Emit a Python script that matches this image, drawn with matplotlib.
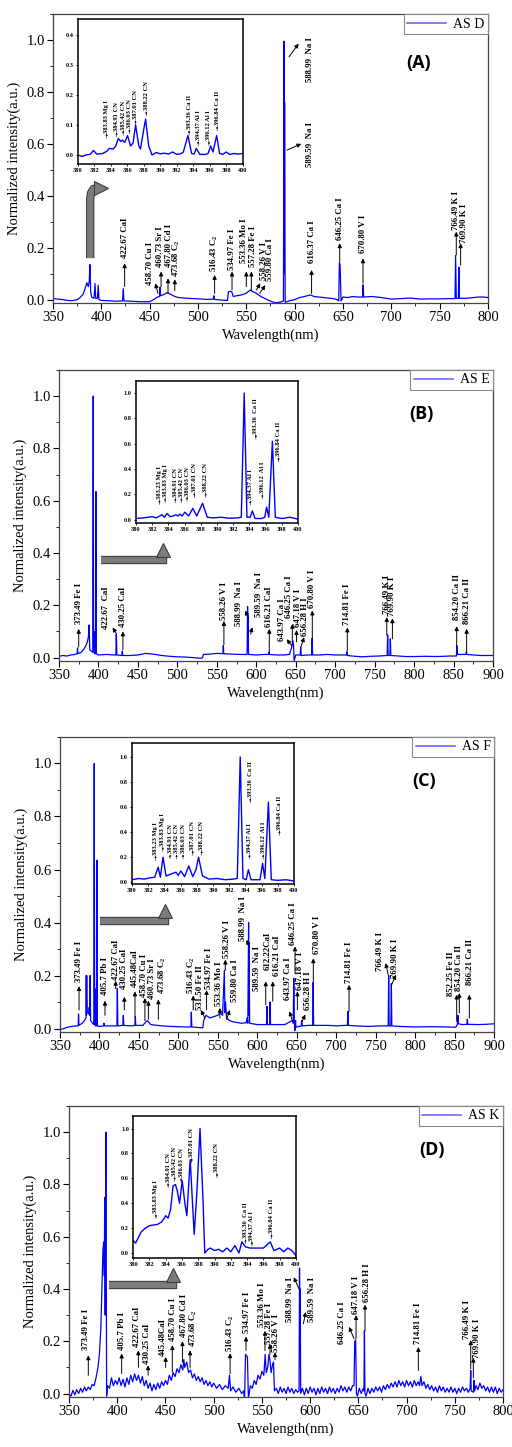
import matplotlib
matplotlib.use('Agg')
import matplotlib.pyplot as plt
import matplotlib.patheffects as pe
from matplotlib.lines import Line2D
from matplotlib.ticker import MultipleLocator

plt.rcParams['font.family'] = ['Liberation Serif', 'DejaVu Serif']
plt.rcParams['mathtext.fontset'] = 'custom'
plt.rcParams['mathtext.rm'] = 'Liberation Serif:bold'
plt.rcParams['mathtext.it'] = 'Liberation Serif:italic:bold'
plt.rcParams['mathtext.bf'] = 'Liberation Serif:bold'

# ---------------- data: (wavelength nm, normalized intensity) ----------------
spec_a = [(350, 0.004), (355, 0.002), (360, 0.0), (365, -0.003), (370, -0.004), (375, 0.0), (378, 0.008),
          (381, 0.02), (383, 0.04), (385, 0.065), (386.5, 0.05), (387.5, 0.07), (388.2, 0.135), (389, 0.03),
          (390, 0.01), (392.5, 0.005), (393.4, 0.062), (394.2, 0.005), (396, 0.005), (396.8, 0.055),
          (397.6, 0.0), (400, -0.003), (405, -0.004), (410, -0.005), (415, -0.006), (421.9, -0.005),
          (422.67, 0.042), (423.4, -0.005), (430, -0.006), (440, -0.008), (450, -0.008), (455, 0.002),
          (458, 0.01), (460.2, 0.012), (460.73, 0.048), (461.3, 0.015), (465, 0.02), (468, 0.027), (472, 0.02),
          (476, 0.012), (480, 0.008), (490, 0.005), (500, 0.003), (510, 0.001), (515.8, 0.002), (516.43, 0.015),
          (517, 0.001), (525, -0.002), (530.5, -0.003), (531.5, 0.03), (533, 0.032), (535, 0.03), (536.5, 0.012),
          (540, 0.015), (545, 0.018), (550, 0.025), (554, 0.037), (557.3, 0.03), (560, 0.025), (565, 0.012),
          (570, 0.003), (575, -0.006), (580, -0.012), (585, -0.01), (588.4, -0.005), (588.99, 0.995),
          (589.3, 0.1), (589.59, 0.76), (590.2, -0.01), (592, -0.008), (595, -0.004), (600, 0.0), (605, 0.008),
          (610, 0.012), (616.37, 0.018), (620, 0.012), (625, 0.01), (630, 0.008), (635, 0.006), (640, 0.004),
          (644, 0.0), (645.6, -0.005), (646.25, 0.14), (647, 0.135), (648, -0.005), (650, 0.01), (655, 0.008),
          (660, 0.012), (665, 0.01), (670.2, 0.01), (670.8, 0.057), (671.4, 0.01), (680, 0.012), (690, 0.008),
          (700, 0.002), (710, 0.004), (720, 0.006), (730, 0.002), (740, 0.003), (750, 0.003), (760, 0.004),
          (765.9, 0.004), (766.49, 0.17), (767.2, 0.005), (769.3, 0.005), (769.9, 0.125), (770.5, 0.005),
          (775, 0.005), (780, 0.006), (790, 0.01), (795, 0.01), (800, 0.008)]

spec_b = [(350, 0.005), (355, 0.008), (360, 0.006), (365, 0.01), (370, 0.012), (373, 0.015), (373.49, 0.037),
          (374, 0.015), (378, 0.02), (381, 0.03), (384, 0.045), (386, 0.06), (387.3, 0.08), (388.22, 0.125),
          (389, 0.03), (392.8, 0.02), (393.36, 1.0), (393.9, 0.02), (394.37, 0.1), (394.9, 0.015),
          (396.3, 0.015), (396.84, 0.635), (397.4, 0.015), (400, 0.01), (410, 0.012), (420, 0.01),
          (422.1, 0.01), (422.67, 0.092), (423.3, 0.01), (429.7, 0.008), (430.25, 0.025), (430.8, 0.008),
          (440, 0.008), (450, 0.01), (460, 0.016), (470, 0.013), (480, 0.008), (490, 0.005), (500, 0.003),
          (510, 0.002), (520, 0.0), (530, -0.003), (532, 0.0), (533, 0.012), (540, 0.013), (550, 0.016),
          (557.7, 0.015), (558.26, 0.046), (558.8, 0.015), (570, 0.013), (580, 0.012), (588.4, 0.012),
          (588.99, 0.195), (589.3, 0.03), (589.59, 0.16), (590.2, 0.012), (600, 0.01), (610, 0.012),
          (615.7, 0.012), (616.21, 0.022), (616.7, 0.012), (625, 0.01), (635, 0.01), (642, 0.012),
          (643.97, 0.03), (645, 0.04), (646.25, 0.065), (647.18, 0.05), (648, -0.012), (650, 0.01),
          (655.7, 0.01), (656.28, 0.04), (656.9, 0.008), (665, 0.01), (670.2, 0.01), (670.8, 0.073),
          (671.4, 0.01), (680, 0.01), (690, 0.012), (700, 0.01), (714.2, 0.01), (714.81, 0.022), (715.4, 0.008),
          (725, 0.005), (735, 0.003), (745, 0.005), (755, 0.006), (765.9, 0.008), (766.49, 0.087),
          (767.1, 0.008), (769.3, 0.008), (769.9, 0.072), (770.5, 0.008), (780, 0.006), (790, 0.004),
          (800, 0.004), (815, 0.005), (830, 0.004), (845, 0.006), (853.6, 0.006), (854.2, 0.045),
          (854.8, 0.012), (860, 0.012), (865.6, 0.012), (866.21, 0.022), (866.8, 0.012), (875, 0.01),
          (885, 0.008), (900, 0.008)]

spec_c = [(350, -0.004), (355, 0.0), (360, 0.006), (365, 0.008), (370, 0.01), (373, 0.01), (373.49, 0.055),
          (374, 0.012), (378, 0.02), (381, 0.03), (383, 0.04), (383.23, 0.2), (383.6, 0.05), (383.83, 0.2),
          (384.2, 0.06), (385.5, 0.06), (386.5, 0.055), (387.01, 0.08), (387.6, 0.05), (388.22, 0.2),
          (388.8, 0.03), (392.8, 0.015), (393.36, 1.0), (393.9, 0.015), (394.37, 0.15), (394.9, 0.01),
          (396.3, 0.01), (396.84, 0.635), (397.4, 0.01), (400, 0.008), (405.2, 0.01), (405.7, 0.02),
          (406.2, 0.01), (415, 0.01), (422.1, 0.01), (422.67, 0.152), (423.3, 0.01), (429.7, 0.012),
          (430.25, 0.05), (430.8, 0.012), (440, 0.01), (444.9, 0.012), (445.48, 0.045), (446, 0.012),
          (455, 0.012), (458.7, 0.025), (460.73, 0.03), (465, 0.015), (470, 0.013), (480, 0.01), (490, 0.008),
          (500, 0.007), (510, 0.006), (515.9, 0.006), (516.43, 0.062), (517, 0.006), (525, 0.004), (531, 0.003),
          (532, 0.03), (535, 0.05), (540, 0.04), (545, 0.045), (550, 0.05), (553, 0.06), (556, 0.05),
          (558.26, 0.22), (559, 0.06), (559.8, 0.1), (561, 0.04), (565, 0.03), (570, 0.025), (580, 0.02),
          (586, 0.022), (587, 0.04), (588, 0.02), (588.99, 0.4), (589.3, 0.05), (589.59, 0.32), (590.3, 0.02),
          (600, 0.015), (611.7, 0.015), (612.22, 0.084), (612.8, 0.015), (615.7, 0.015), (616.21, 0.1),
          (616.8, 0.015), (625, 0.015), (635, 0.015), (643.97, 0.03), (645.5, 0.02), (646.25, 0.19),
          (647, 0.02), (647.6, -0.008), (648.5, 0.03), (649, 0.005), (655.7, 0.01), (656.28, 0.03),
          (656.9, 0.01), (665, 0.012), (670.2, 0.012), (670.8, 0.175), (671.4, 0.012), (680, 0.012),
          (690, 0.012), (700, 0.01), (710, 0.012), (714.2, 0.012), (714.81, 0.065), (715.4, 0.012),
          (725, 0.01), (740, 0.008), (755, 0.01), (765.9, 0.01), (766.49, 0.2), (767.1, 0.01), (769.3, 0.01),
          (769.9, 0.17), (770.5, 0.01), (780, 0.008), (800, 0.006), (820, 0.007), (840, 0.006), (851, 0.005),
          (852.25, 0.008), (853.5, 0.015), (854.2, 0.05), (854.8, 0.018), (860, 0.015), (865.6, 0.016),
          (866.21, 0.035), (866.8, 0.016), (880, 0.015), (890, 0.016), (900, 0.018)]

spec_d = [(350, 0.0), (352, -0.01), (354, 0.012), (356, -0.005), (358, 0.015), (360, 0.0), (362, 0.02),
          (364, 0.005), (366, 0.025), (368, 0.01), (370, 0.025), (372, 0.015), (374, 0.035), (376, 0.03),
          (378, 0.06), (380, 0.1), (381.5, 0.15), (383, 0.25), (384.5, 0.45), (385.2, 0.55), (386, 0.58),
          (386.6, 0.45), (387, 0.75), (387.5, 0.3), (388.22, 1.0), (388.7, 0.3), (389, -0.01), (390, 0.03),
          (392, 0.02), (394, 0.06), (396, 0.03), (398, 0.05), (400, 0.035), (402, 0.06), (404, 0.03),
          (406, 0.055), (408, 0.025), (410, 0.06), (412, 0.035), (414, 0.07), (416, 0.045), (418, 0.075),
          (420, 0.05), (422, 0.07), (424, 0.04), (426, 0.065), (428, 0.03), (430, 0.05), (432, 0.02),
          (434, 0.04), (436, 0.01), (438, 0.035), (440, 0.015), (442, 0.04), (444, 0.02), (446, 0.045),
          (448, 0.03), (450, 0.05), (452, 0.035), (454, 0.07), (456, 0.05), (458, 0.08), (460, 0.065),
          (462, 0.095), (464, 0.08), (466, 0.11), (468, 0.09), (469, 0.13), (470, 0.1), (472, 0.12),
          (474, 0.08), (476, 0.09), (478, 0.06), (480, 0.075), (482, 0.05), (484, 0.065), (486, 0.045),
          (488, 0.06), (490, 0.035), (492, 0.05), (494, 0.03), (496, 0.045), (498, 0.025), (500, 0.04),
          (503, 0.02), (506, 0.035), (509, 0.015), (512, 0.03), (515, 0.02), (516.43, 0.07), (517.5, 0.01),
          (520, 0.025), (523, 0.005), (526, 0.02), (529, 0.0), (531, 0.01), (532, -0.02), (533, 0.15),
          (534.97, 0.14), (536, -0.02), (538, 0.03), (540, 0.02), (542, 0.05), (544, 0.035), (546, 0.07),
          (548, 0.055), (550, 0.085), (552, 0.07), (553.36, 0.15), (554.5, 0.08), (556, 0.1), (557.28, 0.15),
          (558.26, 0.13), (559.5, 0.08), (561, 0.11), (562, 0.12), (563, 0.01), (565, 0.02), (567, 0.0),
          (569, 0.025), (571, 0.005), (573, 0.02), (575, 0.0), (577, 0.025), (579, 0.005), (581, 0.02),
          (583, 0.0), (585, 0.015), (587, 0.005), (588.5, 0.01), (588.99, 0.48), (589.3, 0.15), (589.59, 0.4),
          (590.2, 0.0), (592, 0.02), (594, -0.005), (596, 0.02), (598, 0.0), (600, 0.025), (602, 0.005),
          (604, 0.02), (606, -0.005), (608, 0.02), (610, 0.0), (612, 0.025), (614, 0.005), (616, 0.02),
          (618, 0.0), (620, 0.025), (622, 0.005), (624, 0.02), (626, 0.0), (628, 0.02), (630, 0.005),
          (632, 0.03), (634, 0.01), (636, 0.025), (638, 0.005), (640, 0.025), (642, 0.01), (644, 0.03),
          (645.5, 0.03), (646.25, 0.2), (647.18, 0.205), (648, 0.0), (649, -0.01), (651, 0.02), (653, 0.0),
          (655, 0.02), (655.8, 0.01), (656.28, 0.24), (656.8, 0.0), (658, -0.01), (660, 0.02), (662, 0.0),
          (664, 0.02), (666, 0.005), (668, 0.025), (670, 0.01), (672, 0.025), (674, 0.005), (676, 0.03),
          (678, 0.015), (680, 0.035), (682, 0.02), (684, 0.04), (686, 0.025), (688, 0.045), (690, 0.025),
          (692, 0.05), (694, 0.03), (696, 0.045), (698, 0.025), (700, 0.05), (702, 0.03), (704, 0.045),
          (706, 0.025), (708, 0.05), (710, 0.03), (712, 0.045), (713.5, 0.03), (714.81, 0.065), (716, 0.03),
          (718, 0.045), (720, 0.02), (722, 0.035), (724, 0.015), (726, 0.03), (728, 0.01), (730, 0.025),
          (732, 0.005), (734, 0.03), (736, 0.01), (738, 0.025), (740, 0.005), (742, 0.02), (744, 0.005),
          (746, 0.025), (748, 0.005), (750, 0.02), (752, 0.0), (754, 0.02), (756, 0.005), (758, 0.025),
          (760, 0.01), (762, 0.02), (764, 0.005), (765.9, 0.02), (766.49, 0.088), (767, 0.01), (769.3, 0.005),
          (769.9, 0.05), (770.5, 0.01), (772, 0.03), (774, 0.015), (776, 0.04), (778, 0.02), (780, 0.03),
          (782, 0.01), (784, 0.025), (786, 0.005), (788, 0.025), (790, 0.005), (792, 0.025), (794, 0.0),
          (796, 0.02), (798, 0.005), (800, 0.015)]

inset_a = [(380, 0.0), (380.5, -0.005), (381, 0.0), (381.5, 0.002), (381.9, 0.015), (382.3, 0.003), (383, 0.005),
           (383.5, 0.012), (383.83, 0.022), (384.3, 0.02), (384.6, 0.03), (384.91, 0.055), (385.2, 0.045),
           (385.42, 0.05), (385.7, 0.042), (386.03, 0.065), (386.4, 0.03), (386.7, 0.04), (387.01, 0.1),
           (387.4, 0.03), (387.6, 0.02), (387.9, 0.07), (388.22, 0.12), (388.6, 0.03), (389, 0.0),
           (389.5, 0.008), (390, 0.004), (390.5, 0.006), (391, 0.003), (391.5, 0.01), (392, 0.002),
           (392.5, 0.004), (392.8, 0.01), (393.36, 0.065), (393.8, 0.005), (394.1, 0.003), (394.37, 0.022),
           (394.8, 0.002), (395.5, 0.002), (395.8, 0.005), (396.12, 0.03), (396.4, 0.01), (396.84, 0.065),
           (397.2, 0.005), (397.6, 0.002), (398, 0.01), (398.4, 0.002), (399, 0.005), (399.5, 0.003), (400, 0.005)]

inset_b = [(380, 0.01), (381, 0.015), (382, 0.025), (382.5, 0.015), (383.23, 0.04), (383.5, 0.02), (383.83, 0.05),
           (384.2, 0.025), (384.6, 0.03), (384.91, 0.04), (385.2, 0.03), (385.42, 0.045), (385.7, 0.03),
           (386.03, 0.06), (386.5, 0.03), (387.01, 0.09), (387.5, 0.03), (388.22, 0.13), (388.8, 0.02),
           (389.5, 0.015), (390.5, 0.02), (391.5, 0.012), (392.5, 0.015), (393.0, 0.02), (393.36, 1.0),
           (393.7, 0.02), (394.1, 0.02), (394.37, 0.07), (394.7, 0.01), (395.5, 0.01), (395.9, 0.02),
           (396.12, 0.1), (396.4, 0.02), (396.84, 0.62), (397.2, 0.02), (398, 0.01), (399, 0.02), (400, 0.005)]

inset_c = [(380, 0.02), (380.8, 0.03), (381.5, 0.025), (382.2, 0.035), (382.8, 0.04), (383.23, 0.12), (383.5, 0.04),
           (383.83, 0.2), (384.2, 0.05), (384.6, 0.06), (385, 0.07), (385.42, 0.08), (385.7, 0.055),
           (386.03, 0.09), (386.5, 0.045), (387.01, 0.13), (387.5, 0.045), (387.9, 0.1), (388.22, 0.2),
           (388.7, 0.05), (389.5, 0.025), (390.5, 0.03), (391.5, 0.02), (392.5, 0.025), (393.0, 0.03),
           (393.36, 1.0), (393.7, 0.03), (394.1, 0.02), (394.37, 0.1), (394.7, 0.02), (395.8, 0.02),
           (396.12, 0.15), (396.4, 0.03), (396.84, 0.64), (397.2, 0.02), (398, 0.015), (399, 0.02), (400, 0.01)]

inset_d = [(380, 0.1), (380.3, 0.08), (381, 0.17), (381.5, 0.2), (382, 0.22), (383, 0.23), (383.5, 0.25),
           (383.83, 0.28), (384, 0.3), (384.3, 0.28), (384.6, 0.35), (384.91, 0.54), (385.2, 0.55),
           (385.42, 0.5), (385.7, 0.4), (386.03, 0.58), (386.4, 0.38), (386.6, 0.3), (387.01, 0.75),
           (387.5, 0.15), (387.8, 0.45), (388.22, 1.0), (388.6, 0.4), (388.8, 0.0), (389.2, 0.03),
           (389.5, 0.04), (390, 0.02), (390.5, 0.03), (391, 0.01), (391.5, 0.04), (392, 0.01), (392.5, 0.06),
           (393, 0.0), (393.36, 0.09), (393.8, 0.05), (394.37, 0.04), (395, 0.04), (396, 0.04), (396.84, 0.09),
           (397.3, 0.02), (398, 0.04), (398.5, 0.01), (399, 0.04), (399.5, 0.02), (400, -0.02)]

legend_labels = ['AS D', 'AS E', 'AS F', 'AS K']
panel_tags = ['(A)', '(B)', '(C)', '(D)']

# ------------- annotation layout: (label, text x, text bottom y, arrow tail x, tail y, head x, head y) -------------
notes_a = [("422.67 CaI", 424.1, 0.159, 424.1, 0.05, 424.1, 0.14),
           ("458.70 Cu I", 450.5, 0.056, 458.6, 0.024, 455.9, 0.063),
           ("460.73 Sr I", 461.0, 0.127, 461.8, 0.05, 461.8, 0.108),
           ("467.80 Cd I", 469.6, 0.127, 469.0, 0.024, 469.0, 0.082),
           ("473.68 C$_2$", 477.6, 0.088, 476.0, 0.035, 476.0, 0.078),
           ("516.43 C$_2$", 517.2, 0.108, 517.2, 0.024, 517.2, 0.095),
           ("534.97 Fe I", 535.2, 0.114, 535.2, 0.037, 535.2, 0.108),
           ("553.36 Mo I", 547.6, 0.14, 550.0, 0.05, 550.0, 0.108),
           ("557.28 Fe I", 557.0, 0.127, 555.2, 0.037, 555.2, 0.108),
           ("558.26 V I", 568.3, 0.076, 560.3, 0.037, 564.5, 0.063),
           ("559.80 Ca I", 575.0, 0.07, 563.8, 0.024, 569.7, 0.056),
           ("588.99  Na I", 615.5, 0.84, 594.1, 0.935, 604.1, 0.986),
           ("589.59  Na I", 615.5, 0.51, 592.0, 0.576, 606.9, 0.6),
           ("616.37 Ca I", 617.9, 0.14, 617.5, 0.024, 617.5, 0.114),
           ("646.25 Ca I", 646.6, 0.23, 646.6, 0.14, 646.6, 0.217),
           ("670.80 V I", 670.7, 0.178, 670.7, 0.063, 670.7, 0.159),
           ("766.49 K I", 767.2, 0.268, 767.2, 0.172, 767.2, 0.262),
           ("769.90 K I", 775.1, 0.217, 771.7, 0.133, 771.7, 0.217)]

notes_b = [("373.49 Fe I", 375, 0.13, 375, 0.04, 375, 0.11),
           ("422.67  CaI", 409, 0.11, 422, 0.095, 418, 0.115),
           ("430.25 CaI", 431, 0.116, 431, 0.03, 431, 0.1),
           ("558.26 V I", 559, 0.142, 559, 0.05, 559, 0.14),
           ("588.99  Na I", 577.6, 0.12, 590, 0.15, 586, 0.18),
           ("589.59  Na I", 603.8, 0.155, 592.8, 0.09, 595, 0.116),
           ("616.21 CaI", 616.5, 0.116, 616.5, 0.02, 616.5, 0.11),
           ("643.97 Ca I", 632, 0.065, 645, 0.046, 638.5, 0.07),
           ("646.25 Ca I", 642, 0.15, 645.7, 0.058, 645.7, 0.129),
           ("647.18 V I", 652.6, 0.116, 651, 0.06, 651, 0.105),
           ("656.28 H I", 661.7, 0.084, 656.5, 0.04, 660.7, 0.078),
           ("670.80 V I", 671, 0.19, 671, 0.072, 671, 0.18),
           ("714.81 Fe I", 715.4, 0.123, 715.4, 0.025, 715.4, 0.115),
           ("766.49 K I", 765.4, 0.167, 765.4, 0.085, 765.4, 0.155),
           ("769.90 K I", 772.5, 0.16, 772.5, 0.072, 772.5, 0.15),
           ("854.20 Ca II", 854, 0.142, 854, 0.045, 854, 0.12),
           ("866.21 Ca II", 866.6, 0.13, 866.6, 0.02, 866.6, 0.11)]

notes_c = [("373.49 Fe I", 374.1, 0.175, 374.1, 0.07, 374.1, 0.16),
           ("405.7 Pb I", 407, 0.125, 407, 0.05, 407, 0.105),
           ("422.67 CaI", 421.5, 0.185, 420.5, 0.15, 420.5, 0.18),
           ("430.25 CaI", 431.5, 0.15, 431.5, 0.07, 431.5, 0.12),
           ("445.48CaI", 445, 0.155, 445, 0.045, 445, 0.14),
           ("458.70 Cu I", 456.4, 0.12, 457.6, 0.03, 457.6, 0.115),
           ("460.73 Sr I", 466.5, 0.11, 462, 0.035, 462, 0.105),
           ("473.68 C$_2$", 479.7, 0.13, 474.6, 0.035, 474.6, 0.11),
           ("516.43 C$_2$", 516.0, 0.13, 518.8, 0.07, 518.8, 0.125),
           ("531.50 Fe II", 527.5, 0.07, 533.6, 0.04, 528.5, 0.07),
           ("534.97 Fe I", 538.5, 0.15, 535.7, 0.07, 535.7, 0.145),
           ("553.36 Mo I", 551.8, 0.085, 552.6, 0.04, 552.6, 0.078),
           ("558.26 V I", 561, 0.265, 559.5, 0.22, 559.5, 0.26),
           ("559.80 Ca I", 571.6, 0.1, 561, 0.034, 565.3, 0.07),
           ("588.99  Na I", 581.5, 0.33, 589.8, 0.31, 586.4, 0.335),
           ("589.59  Na I", 599, 0.14, None, None, None, None),
           ("612.22CaI", 612.7, 0.222, 610.7, 0.09, 610.7, 0.178),
           ("616.21 CaI", 624.6, 0.197, 619.6, 0.103, 619.6, 0.178),
           ("643.97 Ca I", 639.3, 0.109, 644.8, 0.027, 640.6, 0.065),
           ("646.25 Ca I", 645.6, 0.316, 647.8, 0.209, 647.8, 0.31),
           ("647.18 V I", 654.2, 0.147, 650.8, 0.071, 650.8, 0.14),
           ("656.28 H I", 664.7, 0.071, 657, 0.027, 660.8, 0.053),
           ("670.80 V I", 675.3, 0.28, 671, 0.178, 671, 0.265),
           ("714.81 Fe I", 716.3, 0.172, 716.3, 0.065, 716.3, 0.165),
           ("766.49 K I", 755.5, 0.216, 765.9, 0.203, 762.6, 0.247),
           ("769.90 K I", 774.5, 0.19, 770.2, 0.165, 775.7, 0.203),
           ("852.25 Fe II", 845.5, 0.121, 852.7, 0.027, 852.7, 0.128),
           ("854.20 Ca II", 856.0, 0.14, 856, 0.059, 856, 0.134),
           ("866.21 Ca II", 869.6, 0.165, 868.7, 0.04, 868.7, 0.128)]

notes_d = [("373.49 Fe I", 367.3, 0.165, 370, 0.07, 370, 0.146),
           ("405.7 Pb I", 404.6, 0.165, 404.6, 0.076, 404.6, 0.153),
           ("422.67 CaI", 420.2, 0.178, 421.9, 0.1, 421.9, 0.165),
           ("430.25 CaI", 431.0, 0.114, 432, 0.07, 432, 0.108),
           ("445.48CaI", 447.5, 0.145, 450.2, 0.1, 450.2, 0.14),
           ("458.70 Cu I", 457.6, 0.2, 457.1, 0.082, 457.1, 0.185),
           ("467.80 Cd I", 468.8, 0.218, 467.6, 0.12, 467.6, 0.2),
           ("473.68 C$_2$", 478.5, 0.178, 475.5, 0.1, 475.5, 0.165),
           ("516.43 C$_2$", 517, 0.16, 517, 0.076, 517, 0.154),
           ("534.97 Fe I", 534.2, 0.23, 533.5, 0.165, 533.5, 0.218),
           ("553.36 Mo I", 550.4, 0.254, 553.2, 0.164, 553.2, 0.24),
           ("557.28 Fe I", 557.6, 0.19, 558.4, 0.15, 558.4, 0.19),
           ("558.26 V I", 565.0, 0.158, 563.6, 0.13, 563.6, 0.158),
           ("588.99  Na I", 579, 0.273, 588.5, 0.4, 583, 0.445),
           ("589.59  Na I", 601.6, 0.273, 593, 0.267, 595.4, 0.312),
           ("646.25 Ca I", 632.7, 0.19, 645.5, 0.21, 640.3, 0.255),
           ("647.18 V I", 647.6, 0.306, 647.6, 0.21, 647.6, 0.3),
           ("656.28 H I", 659.3, 0.35, 656.9, 0.24, 656.9, 0.34),
           ("714.81 Fe I", 712.2, 0.19, 712.2, 0.088, 712.2, 0.178),
           ("766.49 K I", 762.3, 0.208, 766.5, 0.095, 766.5, 0.204),
           ("769.90 K I", 772.7, 0.137, 769.2, 0.06, 769.2, 0.137)]

# inset notes: (label, x, text bottom y)
inotes_a = [("383.83 Mg I", 383.5, 0.075), ("384.91 CN", 384.7, 0.08), ("385.42 CN", 385.5, 0.085),
            ("386.03 CN", 386.25, 0.09), ("387.01 CN", 387.0, 0.12), ("388.22 CN", 388.3, 0.15),
            ("393.36 Ca II", 393.5, 0.086), ("394.37 Al I", 394.6, 0.05), ("396.12 Al I", 395.9, 0.05),
            ("396.84 Ca II", 396.9, 0.1)]
inotes_b = [("383.23 Mg I", 382.9, 0.165), ("383.83 Mg I", 383.6, 0.18), ("384.91 CN", 384.85, 0.18),
            ("385.42 CN", 385.6, 0.18), ("386.03 CN", 386.3, 0.19), ("387.01 CN", 387.2, 0.22),
            ("388.22 CN", 388.6, 0.22), ("393.36  Ca II", 394.8, 0.68), ("394.37 Al I", 394.1, 0.16),
            ("396.12  Al I", 395.6, 0.21), ("396.84 Ca II", 397.6, 0.5)]
inotes_c = [("383.23 Mg I", 382.9, 0.22), ("383.83 Mg I", 383.8, 0.29), ("384.91 CN", 384.7, 0.23),
            ("385.42 CN", 385.5, 0.23), ("386.03 CN", 386.3, 0.23), ("387.01 CN", 387.5, 0.26),
            ("388.22 CN", 388.6, 0.26), ("393.36  Ca II", 394.6, 0.68), ("394.37 Al I", 394.5, 0.23),
            ("396.12  Al I", 396.2, 0.23), ("396.84 Ca II", 398.2, 0.42)]
inotes_d = [("383.83 Mg I", 382.8, 0.32), ("384.91 CN", 384.3, 0.57), ("385.42 CN", 385.1, 0.62),
            ("386.03 CN", 385.9, 0.61), ("387.01 CN", 387.2, 0.77), ("388.22 CN", 390.3, 0.65),
            ("393.36  Ca II", 393.8, 0.12), ("394.37 Al I", 394.6, 0.1), ("396.84 Ca II", 397.0, 0.16)]

BLUE = '#0000ff'
GRAY = '#7c7c7c'
DARK = '#3c3c3c'

fig = plt.figure(figsize=(5.12, 14.47), dpi=100)


def draw_panel(rect, xmax, spec, legend, tag, tagpos, notes, irect, ispec, iylim, iyticks, inotes,
               gpath, gtip, gmarker):
    ax = fig.add_axes(rect)
    xs, ys = zip(*spec)
    ax.plot(xs, ys, color=BLUE, lw=0.9, zorder=2)
    ax.set_xlim(350, xmax)
    ax.set_ylim(-0.013, 1.1)
    ax.xaxis.set_major_locator(MultipleLocator(50))
    ax.xaxis.set_minor_locator(MultipleLocator(25))
    ax.yaxis.set_major_locator(MultipleLocator(0.2))
    ax.yaxis.set_minor_locator(MultipleLocator(0.1))
    ax.tick_params(which='major', direction='out', length=4, width=0.8, labelsize=10.5,
                   top=False, right=False, pad=2)
    ax.tick_params(which='minor', direction='out', length=2, width=0.6, top=False, right=False)
    ax.set_xlabel('Wavelength(nm)', fontsize=10.5, labelpad=3)
    ax.set_ylabel('Normalized intensity(a.u.)', fontsize=10.5, labelpad=4)
    for s in ax.spines.values():
        s.set_color('#444444')
        s.set_linewidth(0.9)
    h = Line2D([], [], color='#6a6aff', lw=1.2)
    leg = ax.legend([h], [legend], loc='upper right', fontsize=10, fancybox=False, edgecolor='#888888',
                    framealpha=1, borderaxespad=0.0, handlelength=2.8, borderpad=0.25, handletextpad=0.5)
    leg.get_frame().set_linewidth(0.8)
    ax.text(tagpos[0], tagpos[1], tag, transform=ax.transAxes, fontsize=13, fontweight='bold',
            family=['Open Sans', 'DejaVu Sans'], ha='center', va='center')
    for lab, tx, ty, x0, y0, x1, y1 in notes:
        ax.text(tx, ty, lab, rotation=90, ha='center', va='bottom', fontsize=6.3, fontweight='bold',
                zorder=6)
        if x0 is not None:
            ax.annotate('', xy=(x1, y1), xytext=(x0, y0),
                        arrowprops=dict(arrowstyle='-|>', color='black', lw=0.7, mutation_scale=6,
                                        shrinkA=0, shrinkB=0), zorder=6)
    gx, gy = zip(*gpath)
    ax.plot(gx, gy, color=GRAY, lw=4.5, solid_capstyle='butt', solid_joinstyle='miter', zorder=4,
            path_effects=[pe.Stroke(linewidth=6, foreground=DARK, capstyle='butt'), pe.Normal()])
    ax.plot([gtip[0]], [gtip[1]], marker=gmarker, ms=9.5, color=GRAY, mec=DARK, mew=0.8, zorder=5)

    axi = fig.add_axes(irect)
    ix, iy = zip(*ispec)
    axi.plot(ix, iy, color=BLUE, lw=1.0)
    axi.set_xlim(380, 400)
    axi.set_ylim(*iylim)
    xt = list(range(380, 401, 2))
    axi.set_xticks(xt)
    axi.set_xticklabels([str(v) for v in xt], fontsize=4.5, fontweight='bold')
    axi.set_yticks(iyticks)
    axi.set_yticklabels(['%.1f' % v for v in iyticks], fontsize=4.5, fontweight='bold')
    axi.tick_params(direction='out', length=1.5, width=0.6, pad=1.5)
    for s in axi.spines.values():
        s.set_color('black')
        s.set_linewidth(1.1)
    rng = iylim[1] - iylim[0]
    for lab, tx, ty in inotes:
        axi.text(tx, ty, lab, rotation=90, ha='center', va='bottom', fontsize=4.7, fontweight='bold')
        axi.annotate('', xy=(tx, ty - 0.008 * rng), xytext=(tx, ty - 0.04 * rng),
                     arrowprops=dict(arrowstyle='-|>', color='black', lw=0.4, mutation_scale=2.5,
                                     shrinkA=0, shrinkB=0))
    return ax, axi


draw_panel([0.1035, 0.7906, 0.8496, 0.1997], 800, spec_a, legend_labels[0], panel_tags[0], (0.84, 0.83),
           notes_a, [0.152, 0.8867, 0.322, 0.1002], inset_a, (-0.03, 0.455), [0.0, 0.1, 0.2, 0.3, 0.4],
           inotes_a, [(388.5, 0.16), (388.5, 0.39), (389.5, 0.412), (392, 0.426), (396, 0.43)],
           (399.5, 0.43), '>')
draw_panel([0.1152, 0.5432, 0.8477, 0.2011], 900, spec_b, legend_labels[1], panel_tags[1], (0.836, 0.85),
           notes_b, [0.2656, 0.6386, 0.3164, 0.0981], inset_b, (-0.025, 1.095),
           [0.0, 0.2, 0.4, 0.6, 0.8, 1.0], inotes_b, [(403, 0.375), (482, 0.375), (482, 0.40)],
           (482, 0.413), '^')
draw_panel([0.1172, 0.2868, 0.8477, 0.2039], 900, spec_c, legend_labels[2], panel_tags[2], (0.839, 0.85),
           notes_c, [0.2578, 0.389, 0.3164, 0.0974], inset_c, (-0.015, 1.11),
           [0.0, 0.2, 0.4, 0.6, 0.8, 1.0], inotes_c, [(401, 0.405), (483, 0.405), (483, 0.43)],
           (483, 0.443), '^')
draw_panel([0.1348, 0.0346, 0.8477, 0.2011], 800, spec_d, legend_labels[3], panel_tags[3], (0.836, 0.85),
           notes_d, [0.26, 0.1306, 0.318, 0.0981], inset_d, (-0.04, 1.1),
           [0.0, 0.2, 0.4, 0.6, 0.8, 1.0], inotes_d, [(391, 0.415), (458, 0.415), (458, 0.44)],
           (458, 0.453), '^')

fig.savefig('out.png', dpi=100)
